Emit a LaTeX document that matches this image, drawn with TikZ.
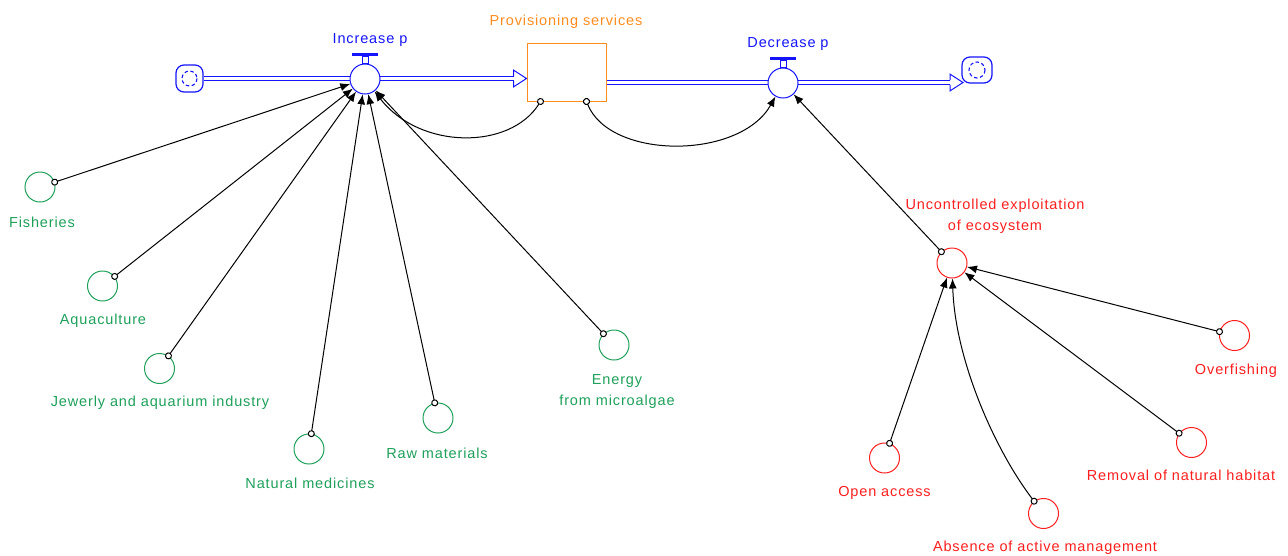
\documentclass[tikz,border=0pt]{standalone}
\usepackage{fontspec}
\setmainfont{Liberation Sans}[LetterSpace=6]
\usetikzlibrary{arrows.meta,calc}

\definecolor{flowblue}{RGB}{20,20,255}
\definecolor{stockorange}{RGB}{255,140,30}
\definecolor{auxgreen}{RGB}{30,160,90}
\definecolor{auxred}{RGB}{255,30,30}

\tikzset{
  aux/.style={circle, draw, line width=1pt, minimum size=30pt, inner sep=0pt},
  greenaux/.style={aux, draw=auxgreen},
  redaux/.style={aux, draw=auxred},
  valvebody/.style={circle, draw=flowblue, fill=white, line width=1pt, minimum size=30pt, inner sep=0pt},
  cloudbox/.style={draw=flowblue, line width=1.2pt, rounded corners=8pt, minimum width=27pt, minimum height=27pt, inner sep=0pt},
  pipe/.style={draw=flowblue, line width=0.9pt, double=white, double distance=3pt},
  pipehead/.style={draw=flowblue, line width=1pt, line join=miter},
  link/.style={line width=1pt, shorten <=-3.5pt,
    {Circle[open,length=7pt,width=7pt,fill=white,line width=1pt]}-{Latex[length=10pt,width=8pt]}},
  gtext/.style={text=auxgreen, align=center},
  rtext/.style={text=auxred, align=center},
  btext/.style={text=flowblue},
}

\begin{document}
\begin{tikzpicture}[x=1pt, y=-1pt, font=\fontsize{14.5}{21}\selectfont]
\useasboundingbox (0,0) rectangle (1288,555);

% sources and sinks
\node[cloudbox] (lcloud) at (189.5,78.5) {};
\draw[flowblue, line width=1.1pt, dash pattern=on 3.5pt off 2.5pt] (lcloud.center) circle (7.5);
\node[cloudbox, minimum height=26pt, minimum width=30pt] (rcloud) at (977,70) {};
\draw[flowblue, line width=1.1pt, dash pattern=on 3.5pt off 2.5pt] (rcloud.center) circle (8);
\coordinate (outend) at (963,82.5);

% stock
\node[draw=stockorange, line width=1pt, minimum width=79pt, minimum height=58pt, inner sep=0pt] (stock) at (566.5,72) {};
\node[text=stockorange] (stocklbl) at (566,22) {Provisioning services};

% inflow pipe
\coordinate (intip) at (lcloud.east -| stock.west);
\draw[pipe, shorten >=13pt] (lcloud.east) -- (intip);
\draw[pipehead] ($(intip)+(-13,-2.4)$) -- ++(0,-6) -- (intip) -- ($(intip)+(-13,8.4)$) -- ++(0,-6);

% outflow pipe
\coordinate (outstart) at (stock.east |- 0,82.5);
\draw[pipe, shorten >=13pt] (outstart) -- (outend);
\draw[pipehead] ($(outend)+(-13,-2.4)$) -- ++(0,-6) -- (outend) -- ($(outend)+(-13,8.4)$) -- ++(0,-6);

% valves
\node[valvebody] (inc) at (365,79) {};
\fill[flowblue] ($(inc.north)+(-13,-10.5)$) rectangle ($(inc.north)+(13,-7.5)$);
\draw[flowblue, line width=0.9pt] ($(inc.north)+(-3,-7.5)$) rectangle ($(inc.north)+(3,0)$);
\node[btext] (inclbl) at (370,40) {Increase p};

\node[valvebody] (dec) at (783,83) {};
\fill[flowblue] ($(dec.north)+(-13,-10.5)$) rectangle ($(dec.north)+(13,-7.5)$);
\draw[flowblue, line width=0.9pt] ($(dec.north)+(-3,-7.5)$) rectangle ($(dec.north)+(3,0)$);
\node[btext] (declbl) at (788,44) {Decrease p};

% supply-side auxiliaries
\node[greenaux] (fish) at (40,187) {};
\node[gtext] (fishlbl) at (42,222) {Fisheries};
\node[greenaux] (aqua) at (102.5,286) {};
\node[gtext] (aqualbl) at (103,321) {Aquaculture};
\node[greenaux] (jewel) at (159.5,368.5) {};
\node[gtext] (jewellbl) at (160,403) {Jewerly and aquarium industry};
\node[greenaux] (medic) at (309,449) {};
\node[gtext] (mediclbl) at (310,483) {Natural medicines};
\node[greenaux] (raw) at (438,418) {};
\node[gtext] (rawlbl) at (437,453) {Raw materials};
\node[greenaux] (energy) at (614,345) {};
\node[gtext] (energylbl) at (617,392) {Energy\\from microalgae};

% pressure-side auxiliaries
\node[redaux] (unc) at (952,263) {};
\node[rtext] (unclbl) at (995,216) {Uncontrolled exploitation\\of ecosystem};
\node[redaux] (over) at (1234.5,335.5) {};
\node[rtext] (overlbl) at (1236,371) {Overfishing};
\node[redaux] (habitat) at (1191.5,442.5) {};
\node[rtext] (habitatlbl) at (1181,475) {Removal of natural habitat};
\node[redaux] (absence) at (1043.5,513.5) {};
\node[rtext] (absencelbl) at (1045,548) {Absence of active management};
\node[redaux] (open) at (884.5,458) {};
\node[rtext] (openlbl) at (884.5,493) {Open access};

% influences on the inflow
\draw[link] (fish) -- (inc);
\draw[link] (aqua) -- (inc);
\draw[link] (jewel) -- (inc);
\draw[link] (medic) -- (inc);
\draw[link] (raw) -- (inc);
\draw[link] (energy) -- (inc);

% stock feedbacks
\coordinate (s1) at ($(stock.south west)+(14,0)$);
\coordinate (s2) at ($(stock.south west)+(60,0)$);
\draw[link] (s1) .. controls (510,150) and (420,150) .. (inc);
\draw[link] (s2) .. controls (610,160) and (740,160) .. (dec);

% influences on the outflow
\draw[link] (unc) -- (dec);
\draw[link] (over) -- (unc);
\draw[link] (habitat) -- (unc);
\draw[link] (absence) .. controls (995,450) and (955,360) .. (unc);
\draw[link] (open) -- (unc);
\end{tikzpicture}
\end{document}
